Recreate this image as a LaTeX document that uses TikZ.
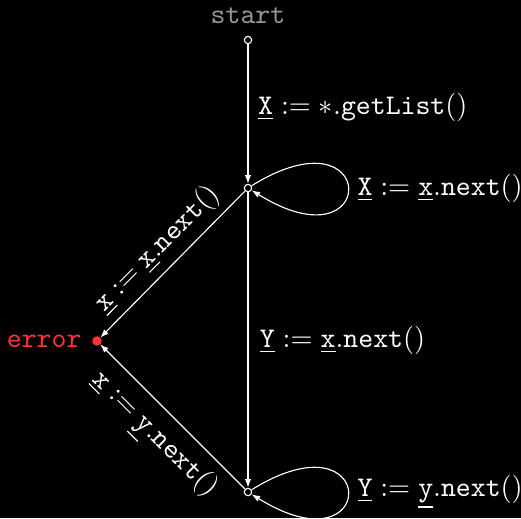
\documentclass[tikz,border=0pt]{standalone}
\usetikzlibrary{arrows.meta}
\definecolor{startgray}{RGB}{150,150,150}
\definecolor{errred}{RGB}{255,51,51}
\newcommand{\uvar}[1]{\underline{\texttt{#1}}}
\begin{document}
\begin{tikzpicture}[x=0.352pt,y=-0.352pt,
  state/.style={circle,draw=white,fill=black,inner sep=0pt,minimum size=2.6pt,line width=0.4pt},
  errstate/.style={circle,draw=errred,fill=errred,inner sep=0pt,minimum size=2.9pt,line width=0.4pt},
  tr/.style={draw=white,line width=0.4pt,-{Latex[length=3pt,width=2.2pt]}},
  lbl/.style={text=white,inner sep=1pt},
]
\fill[black] (0,0) rectangle (521,518);
\useasboundingbox (0,0) rectangle (521,518);

\node[text=startgray,inner sep=0pt] (startlbl) at (248,16) {\texttt{start}};
\node[state] (s0) at (248,40) {};
\node[state] (s1) at (248,188) {};
\node[state] (s2) at (248,492) {};
\node[errstate] (err) at (97,341) {};
\node[text=errred,anchor=east,inner sep=0pt] (errlbl) at (82,341) {\texttt{error}};

\draw[tr] (s0) -- node[lbl,pos=0.45,anchor=west,xshift=2.4pt] (l0) {$\uvar{X} := *.\texttt{getList}()$} (s1);
\draw[tr] (s1) .. controls +(132,-82) and +(132,82) .. node[lbl,pos=0.5,anchor=west,xshift=2.2pt] (l1) {$\uvar{X} := \uvar{x}.\texttt{next}()$} (s1);
\draw[tr] (s1) -- node[lbl,pos=0.5,anchor=west,xshift=3pt] (l2) {$\uvar{Y} := \uvar{x}.\texttt{next}()$} (s2);
\draw[tr] (s2) .. controls +(132,-82) and +(132,82) .. node[lbl,pos=0.5,anchor=west,xshift=2.2pt] (l3) {$\uvar{Y} := \uvar{y}.\texttt{next}()$} (s2);
\draw[tr] (s1) -- node[lbl,pos=0.5,sloped,above,inner sep=2.5pt] (l4) {$\uvar{x} := \uvar{x}.\texttt{next}()$} (err);
\draw[tr] (s2) -- node[lbl,pos=0.5,sloped,below,inner sep=3.5pt] (l5) {$\uvar{x} := \uvar{y}.\texttt{next}()$} (err);
\end{tikzpicture}
\end{document}
